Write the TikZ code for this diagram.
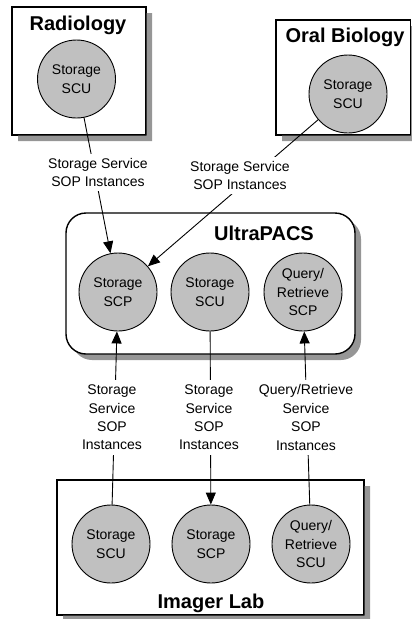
\documentclass[tikz,border=0pt]{standalone}
\usepackage{fontspec}
\setmainfont{Liberation Sans}
\usetikzlibrary{arrows.meta}
\definecolor{circgray}{RGB}{192,192,192}
\definecolor{shadegray}{RGB}{150,150,150}
\begin{document}
\begin{tikzpicture}[x=1pt,y=-1pt,
  site/.style={draw, line width=1.4pt, fill=white, inner sep=0pt},
  sitedrop/.style={fill=shadegray, draw=none},
  role/.style={circle, draw, line width=0.9pt, fill=circgray, minimum size=78pt,
    inner sep=0pt, align=center, font=\fontsize{14}{18.4}\selectfont},
  sitename/.style={font=\fontsize{20}{24}\selectfont\bfseries, anchor=base, inner sep=0pt},
  flow/.style={fill=white, inner xsep=2pt, inner ysep=4.5pt, align=center,
    font=\fontsize{14}{18.4}\selectfont},
  feed/.style={line width=0.9pt, -{Triangle[length=12pt,width=10pt]}}]
\useasboundingbox (0,0) rectangle (412,619);

% drop shadow of the rounded site
\path[sitedrop, rounded corners=20pt] (72,219) rectangle (361,360);

% sites
\node[site, minimum width=134pt, minimum height=128pt] (radbox) at (79,71) {};
\node[site, minimum width=134.5pt, minimum height=115pt] (orbox) at (343.25,77.5) {};
\node[site, rounded corners=20pt, minimum width=289pt, minimum height=141pt] (upbox) at (210.5,283.5) {};
\node[site, minimum width=307pt, minimum height=135pt] (ilbox) at (210.5,547.5) {};

% drop shadows of the square sites: strips along the right and lower sides
\path[sitedrop] (146.7,13) rectangle (152,141) (18,135.7) rectangle (152,141);
\path[sitedrop] (411.2,26) rectangle (416.5,141) (282,135.7) rectangle (416.5,141);
\path[sitedrop] (364.7,486) rectangle (370,621) (63,615.7) rectangle (370,621);

\node[sitename] (radname) at (78,30) {Radiology};
\node[sitename] (orname) at (345,42) {Oral Biology};
\node[sitename] (upname) at (264,240.7) {UltraPACS};
\node[sitename] (ilname) at (211,608) {Imager Lab};

% application entities
\node[role] (radscu) at (76.5,79) {Storage\\SCU};
\node[role] (orscu) at (348,94) {Storage\\SCU};
\node[role] (upscp) at (118,292) {Storage\\SCP};
\node[role] (upscu) at (210,292) {Storage\\SCU};
\node[role] (upqr) at (303,292) {Query/\\Retrieve\\SCP};
\node[role] (ilscu) at (111,544) {Storage\\SCU};
\node[role] (ilscp) at (211,544) {Storage\\SCP};
\node[role] (ilqr) at (311,544) {Query/\\Retrieve\\SCU};

% associations
\draw[feed] (radscu) -- (upscp);
\draw[feed] (orscu) -- (upscp);
\draw[feed] (ilscu) -- (upscp);
\draw[feed] (upscu) -- (ilscp);
\draw[feed] (ilqr) -- (upqr);

% service labels
\node[flow] (f1) at (98,172.5) {Storage Service\\SOP Instances};
\node[flow] (f2) at (240,175.5) {Storage Service\\SOP Instances};
\node[flow] (f3) at (112,417.5) {Storage\\Service\\SOP\\Instances};
\node[flow] (f4) at (209,417.5) {Storage\\Service\\SOP\\Instances};
\node[flow] (f5) at (306,417.5) {Query/Retrieve\\Service\\SOP\\Instances};
\end{tikzpicture}
\end{document}
